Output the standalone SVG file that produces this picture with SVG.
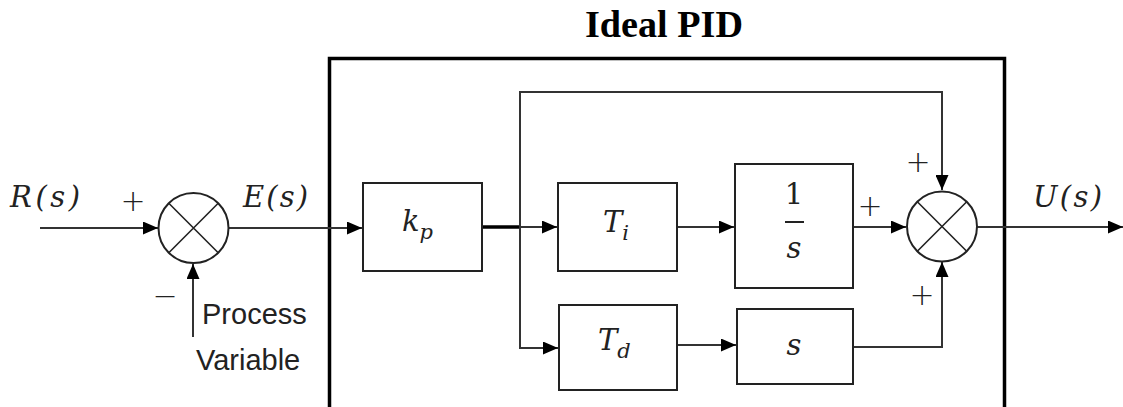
<svg xmlns="http://www.w3.org/2000/svg" width="1123" height="407" viewBox="0 0 1123 407">
<defs>
<marker id="ahb" viewBox="0 0 15 13" refX="15" refY="6.5" markerWidth="15" markerHeight="13" markerUnits="userSpaceOnUse" orient="auto">
<path d="M0,0 L15,6.5 L0,13 z" fill="#000"/>
</marker>
</defs>
<style>
.blk{fill:#fff;stroke:#222;stroke-width:2}
.sum{fill:#fff;stroke:#222;stroke-width:2}
.x{stroke:#222;stroke-width:1.6}
.w{fill:none;stroke:#333;stroke-width:2}
.m{font-family:"DejaVu Serif","Liberation Serif",serif;font-style:italic;font-size:29px;fill:#222}
.sub{font-size:21px}
.s{font-family:"Liberation Sans",Arial,sans-serif;font-size:29px;fill:#222}
.sg{font-family:"DejaVu Sans","Liberation Sans",sans-serif;font-weight:300;font-size:30px;fill:#222}
.t{font-family:"Liberation Serif","Times New Roman",serif;font-weight:bold;font-size:37px;fill:#000}
</style>
<rect width="1123" height="407" fill="#fff"/>
<text class="t" x="585" y="37" textLength="158" lengthAdjust="spacingAndGlyphs">Ideal PID</text>
<rect x="329.5" y="58.5" width="675" height="360" fill="none" stroke="#000" stroke-width="3.5"/>
<g id="connectors">
<path class="w" d="M40,228 H158" marker-end="url(#ahb)"/>
<path class="w" d="M193,337 V264" marker-end="url(#ahb)"/>
<path class="w" d="M229,228 H362" marker-end="url(#ahb)"/>
<path d="M482,227 H520" stroke="#000" stroke-width="3.5" fill="none"/>
<path class="w" d="M520,227 H557" marker-end="url(#ahb)"/>
<path class="w" d="M520,227 V348 H558" marker-end="url(#ahb)"/>
<path class="w" d="M520,227 V92 H942 V190" marker-end="url(#ahb)"/>
<path class="w" d="M677,227 H734" marker-end="url(#ahb)"/>
<path class="w" d="M677,345 H736" marker-end="url(#ahb)"/>
<path class="w" d="M853,227 H906" marker-end="url(#ahb)"/>
<path class="w" d="M853,347 H942 V262" marker-end="url(#ahb)"/>
<path class="w" d="M977,227 H1123" marker-end="url(#ahb)"/>
</g>
<g id="sum1">
<circle class="sum" cx="193.5" cy="228" r="35"/>
<path class="x" d="M168.8,203.3 L218.2,252.7 M218.2,203.3 L168.8,252.7"/>
</g>
<g id="sum2">
<circle class="sum" cx="942" cy="226.5" r="35"/>
<path class="x" d="M917.3,201.8 L966.7,251.2 M966.7,201.8 L917.3,251.2"/>
</g>
<g id="kp">
<rect class="blk" x="363" y="183" width="119" height="88"/>
<text class="m" x="402" y="231">k<tspan class="sub" dy="8">p</tspan></text>
</g>
<g id="Ti">
<rect class="blk" x="558" y="183" width="119" height="88"/>
<text class="m" x="603" y="232">T<tspan class="sub" dy="8">i</tspan></text>
</g>
<g id="Td">
<rect class="blk" x="559" y="305" width="118" height="85"/>
<text class="m" x="598" y="350">T<tspan class="sub" dy="8">d</tspan></text>
</g>
<g id="integ">
<rect class="blk" x="735" y="164" width="118" height="124"/>
<text class="m" x="794" y="204" text-anchor="middle" style="font-style:normal">1</text>
<path d="M785,222 H804" stroke="#222" stroke-width="2"/>
<text class="m" x="794" y="258" text-anchor="middle">s</text>
</g>
<g id="deriv">
<rect class="blk" x="737" y="309" width="116" height="75"/>
<text class="m" x="794" y="355" text-anchor="middle">s</text>
</g>
<g id="labels">
<text class="m" x="10" y="207" textLength="70" lengthAdjust="spacing">R(s)</text>
<text class="m" x="243" y="207" textLength="65" lengthAdjust="spacing">E(s)</text>
<text class="m" x="1033" y="207" textLength="69" lengthAdjust="spacing">U(s)</text>
<text class="sg" x="133" y="211" text-anchor="middle">+</text>
<text class="sg" x="165" y="306" text-anchor="middle">−</text>
<text class="sg" x="918" y="172" text-anchor="middle">+</text>
<text class="sg" x="870" y="216" text-anchor="middle">+</text>
<text class="sg" x="922" y="305" text-anchor="middle">+</text>
<text class="s" x="202" y="324">Process</text>
<text class="s" x="196" y="370">Variable</text>
</g>
</svg>
